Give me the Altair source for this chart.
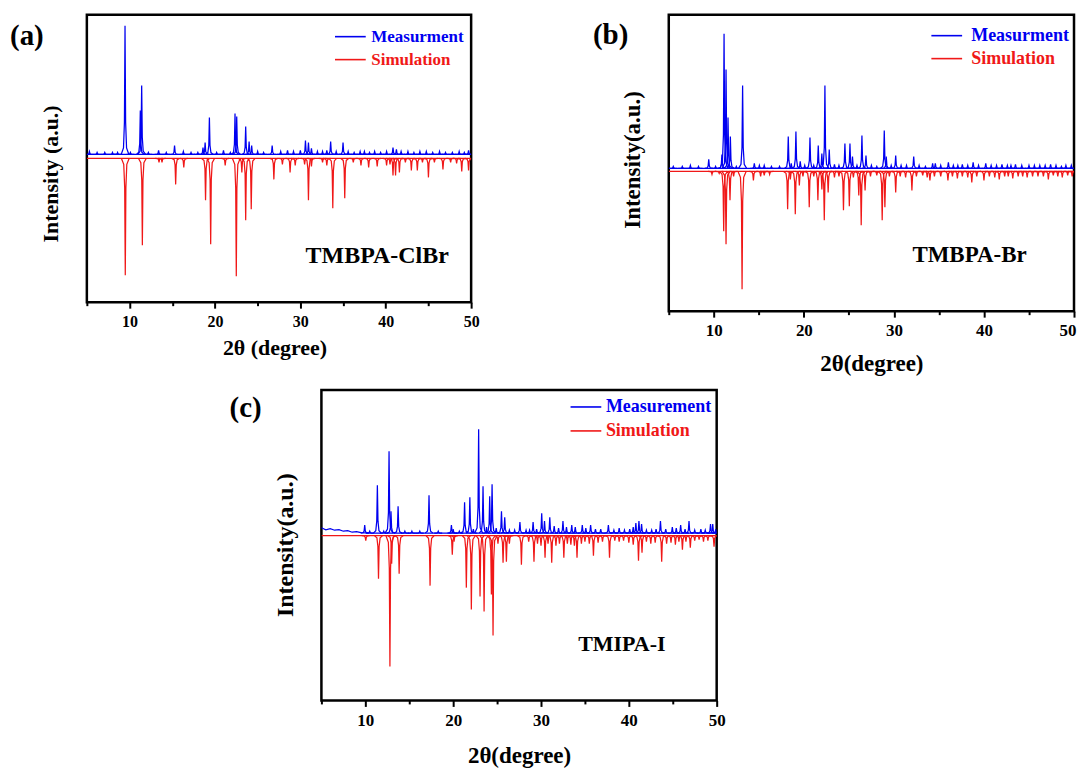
import altair as alt
import pandas as pd

FONT = "Liberation Serif"
BLUE = "#0000f0"
RED = "#f01818"

X_TICKS = [5, 10, 15, 20, 25, 30, 35, 40, 45, 50]

# ---------------- Panel (a) TMBPA-ClBr ----------------
A_MEAS_BASE = 4
A_MEAS_PEAKS = [(5.3, 3), (6.2, 2), (7.1, 2), (8.0, 2), (8.6, 2), (9.47, 129), (10.1, 2),
                (11.26, 44), (11.42, 69), (12.2, 2), (13.4, 4), (14.3, 2), (15.27, 9), (16.3, 3),
                (17.2, 2), (18.0, 2), (18.6, 7), (18.85, 12), (19.35, 37), (20.2, 2), (21.0, 4),
                (21.8, 2), (22.35, 41), (22.55, 38), (23.6, 28), (24.0, 13), (24.3, 9), (25.0, 3),
                (25.7, 2), (26.7, 9), (27.7, 3), (28.5, 4), (29.2, 3), (30.0, 4), (30.6, 14),
                (30.95, 12), (31.3, 6), (32.0, 3), (32.6, 3), (33.1, 4), (33.55, 13), (34.2, 3),
                (35.0, 12), (35.6, 3), (36.3, 2), (37.0, 3), (37.5, 3), (38.1, 2), (38.7, 3),
                (39.4, 2), (40.1, 3), (40.85, 7), (41.25, 5), (41.8, 3), (42.6, 3), (43.3, 2),
                (44.0, 3), (44.75, 3), (45.5, 2), (46.3, 3), (47.0, 2), (47.8, 2), (48.6, 3),
                (49.2, 2), (49.7, 4)]
A_SIM_PEAKS = [(9.5, 117), (11.5, 87), (13.45, 4), (13.8, 4), (15.4, 26), (16.35, 9), (18.9, 42),
               (19.5, 86), (21.2, 7), (22.5, 118), (23.15, 14), (23.6, 62), (24.25, 51), (26.9, 21),
               (27.9, 6), (28.8, 14), (29.4, 7), (30.5, 6), (30.95, 42), (31.3, 8), (32.6, 4),
               (33.1, 7), (33.8, 50), (35.2, 40), (36.2, 4), (37.1, 7), (38.0, 9), (39.0, 8),
               (40.1, 7), (40.5, 6), (40.85, 17), (41.15, 17), (41.6, 14), (42.3, 4), (43.0, 12),
               (43.7, 12), (44.3, 4), (45.0, 19), (45.7, 4), (46.7, 11), (47.6, 4), (48.3, 5),
               (48.9, 13), (49.7, 12)]

# ---------------- Panel (b) TMBPA-Br ----------------
B_MEAS_BASE = 3
B_MEAS_PEAKS = [(5.5, 2), (6.5, 2), (7.4, 3), (8.3, 2), (9.44, 9), (10.2, 2), (10.9, 14),
                (11.14, 135), (11.36, 99), (11.58, 51), (11.84, 32), (12.5, 2), (13.2, 83),
                (14.5, 5), (15.06, 3), (15.6, 3), (16.4, 2), (17.3, 2), (18.27, 32), (18.6, 5),
                (19.12, 37), (19.6, 7), (20.1, 3), (20.68, 31), (21.1, 3), (21.6, 23), (22.0, 15),
                (22.34, 83), (22.82, 19), (23.4, 4), (23.9, 3), (24.56, 25), (25.12, 25),
                (25.4, 12), (25.9, 3), (26.45, 33), (26.9, 13), (27.5, 3), (28.1, 2), (28.93, 38),
                (29.15, 12), (29.7, 3), (30.2, 13), (30.8, 3), (31.4, 3), (32.2, 12), (32.8, 3),
                (33.5, 2), (34.3, 5), (34.6, 5), (35.2, 3), (36.05, 6), (36.6, 3), (37.1, 3),
                (37.6, 4), (38.2, 3), (38.8, 6), (39.4, 3), (40.2, 5), (40.8, 3), (41.4, 3),
                (42.0, 4), (42.6, 3), (43.0, 3), (43.5, 4), (44.2, 3), (45.0, 3), (45.6, 3),
                (46.2, 3), (46.8, 3), (47.4, 4), (48.0, 3), (48.6, 2), (49.1, 3), (49.7, 3)]
B_SIM_PEAKS = [(9.8, 3), (10.6, 2), (11.1, 60), (11.36, 73), (11.8, 29), (12.2, 5), (13.14, 118),
               (14.4, 9), (15.2, 5), (15.6, 4), (16.2, 3), (18.2, 38), (18.5, 8), (19.05, 43),
               (19.5, 14), (19.9, 5), (20.6, 36), (21.1, 5), (21.56, 29), (22.0, 18), (22.27, 49),
               (22.7, 21), (23.4, 6), (23.9, 5), (24.4, 39), (25.05, 35), (25.5, 6), (26.1, 24),
               (26.37, 54), (26.8, 19), (27.4, 5), (28.1, 4), (28.7, 49), (29.0, 36), (29.5, 5),
               (30.2, 21), (30.7, 5), (31.3, 6), (32.0, 19), (32.5, 5), (33.2, 4), (33.7, 6),
               (34.0, 9), (34.5, 5), (35.2, 5), (36.0, 9), (36.5, 5), (37.05, 7), (37.6, 5),
               (38.2, 6), (38.65, 11), (39.2, 5), (40.0, 9), (40.6, 5), (41.2, 6), (41.7, 8),
               (42.3, 5), (42.7, 5), (43.2, 7), (43.8, 5), (44.3, 5), (44.8, 6), (45.4, 5),
               (46.0, 5), (46.6, 5), (47.15, 8), (47.7, 4), (48.2, 5), (48.7, 6), (49.3, 4),
               (49.8, 5)]

# ---------------- Panel (c) TMIPA-I ----------------
C_MEAS_BASE = 2.6
C_MEAS_BASELINE = [(5.0, 8), (5.5, 6), (6.0, 7), (6.5, 5.5), (7.0, 6), (7.5, 4.5), (8.0, 5),
                   (8.5, 3.5), (9.0, 4), (9.5, 3), (10.5, 2.6), (50.0, 2.6)]
C_MEAS_PEAKS = [(9.93, 8), (10.5, 2), (11.37, 48), (12.1, 2), (12.7, 82), (12.92, 22), (13.73, 27),
                (14.5, 2), (15.3, 2), (16.2, 2), (17.25, 38), (18.3, 2), (19.8, 8), (20.0, 4),
                (20.7, 2), (21.3, 31), (21.9, 36), (22.3, 4), (22.9, 104), (23.4, 47), (23.8, 6),
                (24.16, 37), (24.43, 49), (24.9, 5), (25.5, 22), (25.87, 16), (26.4, 3), (27.0, 3),
                (27.6, 11), (28.3, 3), (28.7, 3), (29.1, 11), (29.5, 4), (30.08, 20), (30.4, 12),
                (31.0, 16), (31.5, 7), (32.0, 5), (32.5, 12), (32.9, 6), (33.5, 8), (33.9, 6),
                (34.7, 8), (35.1, 5), (35.65, 8), (36.2, 4), (36.8, 4), (37.67, 8), (38.3, 3),
                (38.9, 5), (39.5, 3), (40.1, 4), (40.5, 6), (40.8, 10), (41.15, 12), (41.45, 9),
                (42.0, 3), (42.6, 3), (43.1, 4), (43.6, 12), (44.2, 4), (44.95, 6), (45.4, 5),
                (45.9, 8), (46.4, 4), (46.85, 12), (47.5, 3), (48.2, 4), (48.7, 3), (49.3, 9),
                (49.55, 9), (49.9, 4)]
C_SIM_PEAKS = [(10.05, 5), (11.5, 43), (12.8, 131), (13.0, 28), (13.85, 38), (17.37, 50),
               (19.9, 19), (20.1, 6), (21.5, 52), (22.07, 74), (23.06, 61), (23.52, 76),
               (24.35, 59), (24.54, 100), (25.1, 8), (25.68, 27), (26.06, 26), (26.4, 8),
               (27.77, 29), (28.6, 6), (29.2, 26), (29.6, 8), (30.0, 10), (30.46, 22), (30.8, 8),
               (31.22, 27), (31.7, 10), (32.1, 8), (32.6, 22), (33.0, 8), (33.4, 9), (33.8, 10),
               (34.1, 22), (34.6, 8), (35.0, 6), (35.5, 8), (35.97, 20), (36.5, 7), (37.0, 6),
               (37.8, 22), (38.4, 5), (38.9, 6), (39.4, 5), (40.0, 7), (40.5, 9), (41.1, 25),
               (41.5, 17), (42.0, 6), (42.5, 8), (43.0, 7), (43.74, 26), (44.3, 8), (44.8, 7),
               (45.3, 9), (45.7, 6), (46.1, 14), (46.5, 6), (47.0, 12), (47.5, 5), (48.0, 4),
               (48.5, 6), (49.0, 5), (49.7, 11)]

# peak profile (shape of one diffraction line)
PROFILE_DX = [-0.45, -0.18, -0.07, 0.0, 0.07, 0.18, 0.45]
PROFILE_F = [0.0, 0.05, 0.25, 1.0, 0.25, 0.05, 0.0]


def peak_rows(peaks, base, sign, series, tag):
    rows = []
    for i, (pos, h) in enumerate(peaks):
        for dx, f in zip(PROFILE_DX, PROFILE_F):
            rows.append({"x": pos + dx, "y": base + sign * h * f, "series": series,
                         "trace": f"{tag}{i}"})
    return rows


def line_rows(points, series, tag):
    return [{"x": x, "y": y, "series": series, "trace": tag} for x, y in points]


def panel(label, name, meas_name, meas_rows, sim_rows, width, height, ydom,
          xtitle, ytitle, tick_fs, title_fs, ytitle_fs, leg_fs, leg_x, leg_y,
          name_pos, name_fs, label_pos, x_title_pad, y_title_y, x_title_x=None,
          label_pad=5, row_pad=2, leg_offset=8, flush=False):
    df = pd.DataFrame(meas_rows + sim_rows)
    xaxis_kw = dict(values=X_TICKS, labelExpr="datum.value % 10 === 0 ? datum.label : ''",
                    tickSize=alt.expr("datum.value % 10 === 0 ? 6 : 3.5"),
                    tickWidth=2, tickColor="black", domain=False, grid=False,
                    labelFont=FONT, labelFontSize=tick_fs, labelFontWeight="bold",
                    labelColor="black", labelPadding=label_pad, labelFlush=flush,
                    labelOverlap=False,
                    titleFont=FONT, titleFontSize=title_fs, titleFontWeight="bold",
                    titleColor="black", titlePadding=x_title_pad)
    if flush:
        xaxis_kw["labelFlushOffset"] = 2
    if x_title_x is not None:
        xaxis_kw["titleX"] = x_title_x
    x = alt.X("x:Q", scale=alt.Scale(domain=[5, 50], nice=False, zero=False),
              axis=alt.Axis(**xaxis_kw), title=xtitle)
    y = alt.Y("y:Q", scale=alt.Scale(domain=ydom, nice=False, zero=False),
              axis=alt.Axis(labels=False, ticks=False, domain=False, grid=False,
                            titleFont=FONT, titleFontSize=ytitle_fs, titleFontWeight="bold",
                            titleColor="black", titlePadding=24, titleY=y_title_y),
              title=ytitle)
    color = alt.Color("series:N",
                      scale=alt.Scale(domain=[meas_name, "Simulation"], range=[BLUE, RED]),
                      legend=alt.Legend(title=None, orient="none", legendX=leg_x, legendY=leg_y,
                                        direction="vertical", symbolType="M-1.4,0H1.4",
                                        symbolSize=484, symbolStrokeWidth=1.6,
                                        labelFont=FONT, labelFontSize=leg_fs,
                                        labelFontWeight="bold", labelOffset=leg_offset,
                                        labelColor=alt.expr(
                                            f"datum.value === 'Simulation' ? '{RED}' : '{BLUE}'"),
                                        rowPadding=row_pad, padding=0))
    lines = alt.Chart(df).mark_line(strokeWidth=1.25, clip=True).encode(
        x=x, y=y, color=color, detail="trace:N")
    name_df = pd.DataFrame({"x": [name_pos[0]], "y": [name_pos[1]], "t": [name]})
    name_txt = alt.Chart(name_df).mark_text(font=FONT, fontSize=name_fs, fontWeight="bold",
                                            color="black", align="center",
                                            baseline="middle").encode(x=x, y=y, text="t:N")
    lab_df = pd.DataFrame({"t": [label]})
    lab_txt = alt.Chart(lab_df).mark_text(font=FONT, fontSize=29, fontWeight="bold",
                                          color="black", align="left",
                                          baseline="middle").encode(
        x=alt.value(label_pos[0]), y=alt.value(label_pos[1]), text="t:N")
    return alt.layer(lines, name_txt, lab_txt).properties(width=width, height=height)


a_rows_m = line_rows([(5, A_MEAS_BASE), (50, A_MEAS_BASE)], "Measurment", "mb") + \
    peak_rows(A_MEAS_PEAKS, A_MEAS_BASE, 1, "Measurment", "m")
a_rows_s = line_rows([(5, 0), (50, 0)], "Simulation", "sb") + \
    peak_rows(A_SIM_PEAKS, 0, -1, "Simulation", "s")
pa = panel("(a)", "TMBPA-ClBr", "Measurment", a_rows_m, a_rows_s, 385, 288, [-144, 144],
           "2θ (degree)", "Intensity (a.u.)", 16, 22, 22, 17, 252, 10,
           (39.0, -98), 24, (-77, 21), 8, 159, 188, row_pad=3, leg_offset=9)

b_rows_m = line_rows([(5, B_MEAS_BASE), (50, B_MEAS_BASE)], "Measurment", "mb") + \
    peak_rows(B_MEAS_PEAKS, B_MEAS_BASE, 1, "Measurment", "m")
b_rows_s = line_rows([(5, 0), (50, 0)], "Simulation", "sb") + \
    peak_rows(B_SIM_PEAKS, 0, -1, "Simulation", "s")
pb = panel("(b)", "TMBPA-Br", "Measurment", b_rows_m, b_rows_s, 406, 297, [-140, 157],
           "2θ(degree)", "Intensity(a.u.)", 17, 23, 23, 18, 266.5, 9,
           (38.4, -84), 23, (-76, 20), 14, 145, leg_offset=12.5, flush=True)

c_rows_m = line_rows(C_MEAS_BASELINE, "Measurement", "mb") + \
    peak_rows(C_MEAS_PEAKS, C_MEAS_BASE, 1, "Measurement", "m")
c_rows_s = line_rows([(5, 0), (50, 0)], "Simulation", "sb") + \
    peak_rows(C_SIM_PEAKS, 0, -1, "Simulation", "s")
pc = panel("(c)", "TMIPA-I", "Measurement", c_rows_m, c_rows_s, 396, 311, [-165, 146],
           "2θ(degree)", "Intensity(a.u.)", 17, 23, 24, 18, 253, 5,
           (39.2, -108), 22, (-92, 18), 16, 155, label_pad=6, row_pad=3)

spacer = alt.Chart(pd.DataFrame({"v": [0]})).mark_point(opacity=0).encode(
    x=alt.X("v:Q", axis=None), y=alt.Y("v:Q", axis=None)
).properties(width=139, height=10, view=alt.ViewBackground(stroke="transparent"))

row1 = alt.hconcat(pa, pb, spacing=110).resolve_scale(color="independent", x="independent",
                                                      y="independent")
row2 = alt.hconcat(spacer, pc, spacing=0).resolve_scale(color="independent", x="independent",
                                                        y="independent")
chart = alt.vconcat(row1, row2, spacing=11).resolve_scale(
    color="independent", x="independent", y="independent"
).properties(
    padding={"left": 0, "top": 4, "right": 0, "bottom": 0},
    background="white"
).configure_view(stroke="black", strokeWidth=2.5)

chart.save("out.html", embed_options={"renderer": "svg", "actions": False})
